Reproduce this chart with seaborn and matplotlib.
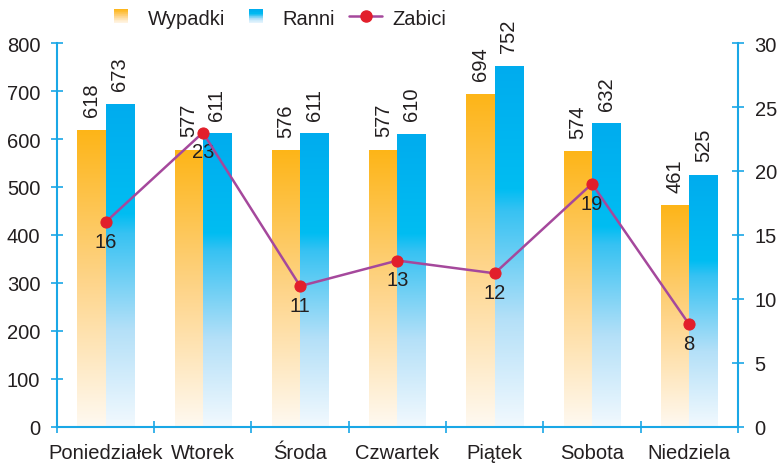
import numpy as np
import pandas as pd
import matplotlib
matplotlib.use("Agg")
import matplotlib.pyplot as plt
import seaborn as sns
from matplotlib.colors import LinearSegmentedColormap
from matplotlib.legend_handler import HandlerBase
from matplotlib.patches import Rectangle, Patch
from matplotlib.lines import Line2D

days = ['Poniedziałek', 'Wtorek', 'Środa', 'Czwartek', 'Piątek', 'Sobota', 'Niedziela']
wypadki = [618, 577, 576, 577, 694, 574, 461]
ranni = [673, 611, 611, 610, 752, 632, 525]
zabici = [16, 23, 11, 13, 12, 19, 8]

AXIS_C = '#1AA7E6'
TEXT_C = '#231F20'
FS = 14.5

# gradients: value 0 = bottom of bar, 1 = top of bar
orange_cmap = LinearSegmentedColormap.from_list(
    'orange', [(0.0, '#FFF9F1'), (0.5, '#FED488'), (1.0, '#FDB518')])
blue_cmap = LinearSegmentedColormap.from_list(
    'blue', [(0.0, '#F2F9FE'), (0.3, '#B4E0F8'), (0.6, '#37C2F2'),
             (0.66, '#00BDF2'), (1.0, '#00ACEE')])

sns.set_style('white')
plt.rcParams['font.family'] = ['Liberation Sans', 'DejaVu Sans']
plt.rcParams['text.color'] = TEXT_C

df = pd.DataFrame({
    'day': days * 2,
    'value': wypadki + ranni,
    'kind': ['Wypadki'] * 7 + ['Ranni'] * 7,
})

fig = plt.figure(figsize=(7.8, 4.64), dpi=100)
ax = fig.add_axes([0.073, 0.078, 0.873, 0.827])

sns.barplot(data=df, x='day', y='value', hue='kind', order=days,
            hue_order=['Wypadki', 'Ranni'], width=0.58, ax=ax,
            legend=False, errorbar=None, palette=['#FDB518', '#00ACEE'])

grad = np.linspace(0, 1, 256).reshape(-1, 1)
for cont, cmap in zip(ax.containers, [orange_cmap, blue_cmap]):
    for bar in cont:
        x0, w, h = bar.get_x(), bar.get_width(), bar.get_height()
        bar.set_facecolor('none')
        bar.set_edgecolor('none')
        ax.imshow(grad, cmap=cmap, origin='lower', aspect='auto',
                  extent=[x0, x0 + w, 0, h], zorder=2, interpolation='bilinear')
    ax.bar_label(cont, rotation=90, padding=10, fontsize=FS, color=TEXT_C)

ax.set_xlim(-0.5, 6.5)
ax.set_ylim(0, 800)
ax.set_yticks(range(0, 801, 100))
ax.set_xlabel('')
ax.set_ylabel('')
ax.set_xticks(np.arange(-0.5, 7, 1), minor=True)
ax.tick_params(axis='x', which='major', length=0, labelsize=FS, pad=12, colors=TEXT_C)
ax.tick_params(axis='x', which='minor', length=8, direction='inout', color=AXIS_C, width=1.2)
ax.tick_params(axis='y', length=8, direction='inout', color=AXIS_C, width=1.2,
               labelsize=FS, labelcolor=TEXT_C, pad=8)
ax.xaxis.set_tick_params(bottom=True, which='both')
for side in ['top', 'right']:
    ax.spines[side].set_visible(False)
for side in ['left', 'bottom']:
    ax.spines[side].set_color(AXIS_C)
    ax.spines[side].set_linewidth(1.5)

ax2 = ax.twinx()
sns.lineplot(x=np.arange(7), y=zabici, ax=ax2, color='#A5489C', lw=1.8,
             marker='o', markersize=8, markerfacecolor='#E21F2B',
             markeredgecolor='#E21F2B', zorder=5)
for i, v in enumerate(zabici):
    ax2.annotate(str(v), (i, v), xytext=(0, -7), textcoords='offset points',
                 ha='center', va='top', fontsize=FS, color=TEXT_C)
ax2.set_ylim(0, 30)
ax2.set_yticks(range(0, 31, 5))
ax2.set_xlim(-0.5, 6.5)
ax2.tick_params(axis='y', length=8, direction='inout', color=AXIS_C, width=1.2,
                labelsize=FS, labelcolor=TEXT_C, pad=8)
for side in ['top', 'left', 'bottom']:
    ax2.spines[side].set_visible(False)
ax2.spines['right'].set_color(AXIS_C)
ax2.spines['right'].set_linewidth(1.5)


class GradHandler(HandlerBase):
    def __init__(self, cmap):
        super().__init__()
        self.cmap = cmap

    def create_artists(self, legend, orig_handle, xdescent, ydescent,
                       width, height, fontsize, trans):
        side = height * 0.95
        x0 = -xdescent + (width - side) / 2
        y0 = -ydescent + (height - side) / 2
        n = 20
        arts = []
        for k in range(n):
            r = Rectangle((x0, y0 + side * k / n), side, side / n + 0.3,
                          facecolor=self.cmap((k + 0.5) / n), edgecolor='none',
                          transform=trans)
            arts.append(r)
        return arts


h_w = Patch(label='Wypadki')
h_r = Patch(label='Ranni')
h_z = Line2D([], [], color='#A5489C', lw=1.8, marker='o', markersize=8,
             markerfacecolor='#E21F2B', markeredgecolor='#E21F2B', label='Zabici')
fig.legend(handles=[h_w, h_r, h_z], labels=['Wypadki', 'Ranni', 'Zabici'],
           handler_map={h_w: GradHandler(orange_cmap), h_r: GradHandler(blue_cmap)},
           loc='center', bbox_to_anchor=(0.353, 0.959), ncol=3, frameon=False,
           fontsize=FS, handlelength=1.65, columnspacing=0.7, handletextpad=0.5,
           borderpad=0.1)

fig.savefig('out.png', dpi=100)
